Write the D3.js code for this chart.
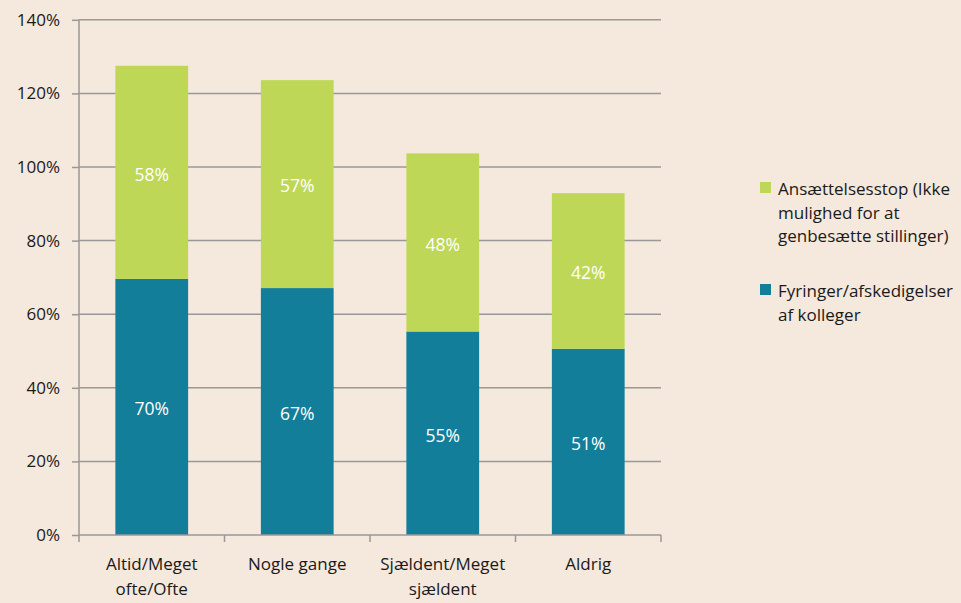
<!DOCTYPE html>
<html>
<head>
<meta charset="utf-8">
<script src="https://cdn.jsdelivr.net/npm/d3@7"></script>
<style>
  body { margin: 0; background: #f5e8dc; }
  svg { display: block; }
  text { font-family: "Open Sans", "Noto Sans", sans-serif; }
</style>
</head>
<body>
<svg id="svg" width="961" height="603"></svg>
<script>
// categories (x axis), two lines each
const categories = ['Altid/Meget ofte/Ofte', 'Nogle gange', 'Sjældent/Meget sjældent', 'Aldrig'];
const categoryLines = [['Altid/Meget', 'ofte/Ofte'], ['Nogle gange'], ['Sjældent/Meget', 'sjældent'], ['Aldrig']];

// series values, in percent
const fyringer = [69.6, 67.1, 55.3, 50.6];
const ansaettelsesstop = [57.9, 56.5, 48.4, 42.3];

const yTicks = [0, 20, 40, 60, 80, 100, 120, 140];

const legendLines = [['Ansættelsesstop (Ikke', 'mulighed for at', 'genbesætte stillinger)'], ['Fyringer/afskedigelser', 'af kolleger']];

const blue = '#127e9a';
const green = '#bed757';
const gridColor = '#989898';
const textColor = '#1a1a1a';
const fontSize = 17;

const svg = d3.select('#svg');
const plotLeft = 79, plotRight = 661, plotTop = 19.8, plotBottom = 535;

let x = d3.scaleBand()
    .domain(categories)
    .range([plotLeft, plotRight])
    .paddingInner(0.5)
    .paddingOuter(0.25);

let y = d3.scaleLinear()
    .domain([0, 140])
    .range([plotBottom, plotTop]);

// gridlines
svg.append('g')
    .selectAll('line')
    .data(yTicks.filter(d => d > 0))
    .join('line')
    .attr('x1', plotLeft)
    .attr('x2', plotRight)
    .attr('y1', d => y(d))
    .attr('y2', d => y(d))
    .attr('stroke', gridColor)
    .attr('stroke-width', 1.5);

// stacked data
let rows = categories.map((c, i) => ({ cat: c, fyr: fyringer[i], ans: ansaettelsesstop[i] }));
let stack = d3.stack().keys(['fyr', 'ans'])(rows);
let colors = { fyr: blue, ans: green };

stack.forEach(layer => {
    let g = svg.append('g');
    g.selectAll('rect')
        .data(layer)
        .join('rect')
        .attr('x', d => x(d.data.cat))
        .attr('width', x.bandwidth())
        .attr('y', d => y(d[1]))
        .attr('height', d => y(d[0]) - y(d[1]))
        .attr('fill', colors[layer.key]);
    g.selectAll('text')
        .data(layer)
        .join('text')
        .attr('x', d => x(d.data.cat) + x.bandwidth() / 2)
        .attr('y', d => (y(d[0]) + y(d[1])) / 2 + 2)
        .attr('dy', '0.36em')
        .attr('text-anchor', 'middle')
        .attr('fill', '#ffffff')
        .attr('font-size', 17.5)
        .text(d => Math.round(d[1] - d[0]) + '%');
});

// y axis
let yAxis = d3.axisLeft(y)
    .tickValues(yTicks)
    .tickSize(7)
    .tickPadding(12)
    .tickFormat(d => d + '%');
let yg = svg.append('g')
    .attr('transform', `translate(${plotLeft},0)`)
    .call(yAxis);
yg.select('.domain').attr('stroke', gridColor).attr('stroke-width', 1.5).attr('d', `M0,${plotBottom}V${plotTop}`);
yg.selectAll('.tick line').attr('stroke', gridColor).attr('stroke-width', 1.5);
yg.selectAll('.tick text').attr('font-size', fontSize).attr('fill', textColor)
    .style('font-family', '"Open Sans", "Noto Sans", sans-serif');

// x axis baseline and tick marks at band edges
let edges = categories.map(c => x(c) - x.step() * x.paddingInner() / 2);
edges.push(plotRight);
let xg = svg.append('g');
xg.append('line')
    .attr('x1', plotLeft).attr('x2', plotRight)
    .attr('y1', plotBottom).attr('y2', plotBottom)
    .attr('stroke', gridColor).attr('stroke-width', 1.5);
xg.selectAll('line.tk')
    .data(edges)
    .join('line')
    .attr('class', 'tk')
    .attr('x1', d => d).attr('x2', d => d)
    .attr('y1', plotBottom).attr('y2', plotBottom + 7)
    .attr('stroke', gridColor).attr('stroke-width', 1.5);

// x labels
categories.forEach((c, i) => {
    let t = xg.append('text')
        .attr('text-anchor', 'middle')
        .attr('font-size', fontSize)
        .attr('fill', textColor);
    categoryLines[i].forEach((line, j) => {
        t.append('tspan')
            .attr('x', x(c) + x.bandwidth() / 2)
            .attr('y', 570 + j * 24.5)
            .text(line);
    });
});

// legend
let legendItems = [
    { color: green, lines: legendLines[0], y: 182 },
    { color: blue, lines: legendLines[1], y: 284 }
];
legendItems.forEach(item => {
    let g = svg.append('g');
    g.append('rect')
        .attr('x', 760).attr('y', item.y)
        .attr('width', 11).attr('height', 11)
        .attr('fill', item.color);
    let t = g.append('text')
        .attr('font-size', fontSize)
        .attr('fill', textColor);
    item.lines.forEach((line, j) => {
        t.append('tspan')
            .attr('x', 778)
            .attr('y', item.y + 13 + j * 23.5)
            .text(line);
    });
});
</script>
</body>
</html>
